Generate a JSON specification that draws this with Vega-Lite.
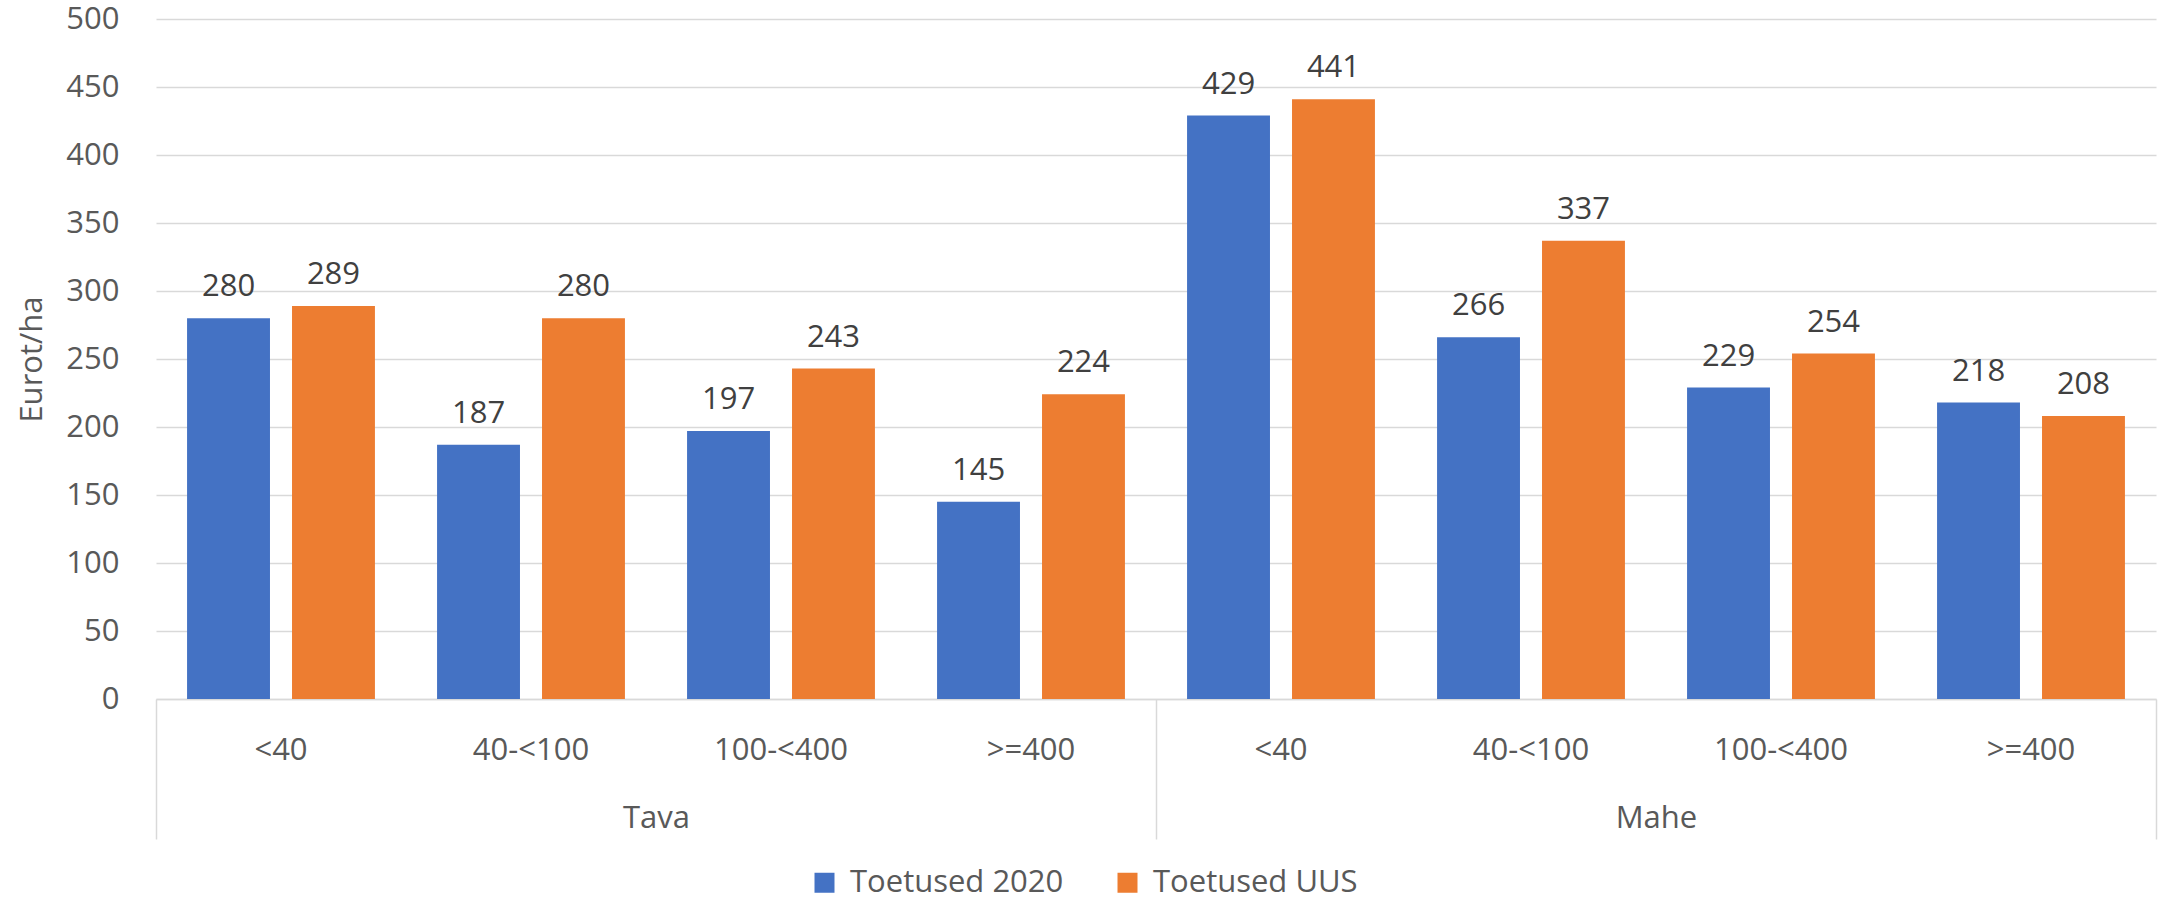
{
  "$schema": "https://vega.github.io/schema/vega-lite/v6.json",
  "autosize": {"type": "none"},
  "padding": {"left": 156, "top": 19, "right": 7, "bottom": 199},
  "width": 2000,
  "height": 680,
  "config": {
    "font": "Open Sans",
    "view": {"stroke": null},
    "axis": {"labelFont": "Open Sans", "titleFont": "Open Sans"}
  },
  "data": {
    "values": [
      {"group": "Tava", "size": "<40", "cat": "Tava|<40", "series": "Toetused 2020", "value": 280},
      {"group": "Tava", "size": "<40", "cat": "Tava|<40", "series": "Toetused UUS", "value": 289},
      {"group": "Tava", "size": "40-<100", "cat": "Tava|40-<100", "series": "Toetused 2020", "value": 187},
      {"group": "Tava", "size": "40-<100", "cat": "Tava|40-<100", "series": "Toetused UUS", "value": 280},
      {"group": "Tava", "size": "100-<400", "cat": "Tava|100-<400", "series": "Toetused 2020", "value": 197},
      {"group": "Tava", "size": "100-<400", "cat": "Tava|100-<400", "series": "Toetused UUS", "value": 243},
      {"group": "Tava", "size": ">=400", "cat": "Tava|>=400", "series": "Toetused 2020", "value": 145},
      {"group": "Tava", "size": ">=400", "cat": "Tava|>=400", "series": "Toetused UUS", "value": 224},
      {"group": "Mahe", "size": "<40", "cat": "Mahe|<40", "series": "Toetused 2020", "value": 429},
      {"group": "Mahe", "size": "<40", "cat": "Mahe|<40", "series": "Toetused UUS", "value": 441},
      {"group": "Mahe", "size": "40-<100", "cat": "Mahe|40-<100", "series": "Toetused 2020", "value": 266},
      {"group": "Mahe", "size": "40-<100", "cat": "Mahe|40-<100", "series": "Toetused UUS", "value": 337},
      {"group": "Mahe", "size": "100-<400", "cat": "Mahe|100-<400", "series": "Toetused 2020", "value": 229},
      {"group": "Mahe", "size": "100-<400", "cat": "Mahe|100-<400", "series": "Toetused UUS", "value": 254},
      {"group": "Mahe", "size": ">=400", "cat": "Mahe|>=400", "series": "Toetused 2020", "value": 218},
      {"group": "Mahe", "size": ">=400", "cat": "Mahe|>=400", "series": "Toetused UUS", "value": 208}
    ]
  },
  "layer": [
    {
      "encoding": {
        "x": {
          "field": "cat",
          "type": "nominal",
          "sort": ["Tava|<40", "Tava|40-<100", "Tava|100-<400", "Tava|>=400", "Mahe|<40", "Mahe|40-<100", "Mahe|100-<400", "Mahe|>=400"],
          "scale": {"paddingInner": 0, "paddingOuter": 0},
          "axis": {
            "title": null,
            "orient": "bottom",
            "labelExpr": "split(datum.value, '|')[1]",
            "labelAngle": 0,
            "labelFontSize": 31,
            "labelColor": "#595959",
            "labelBaseline": "middle",
            "labelPadding": 51,
            "ticks": false,
            "domain": true,
            "domainColor": "#d9d9d9",
            "domainWidth": 1.5,
            "grid": false
          }
        },
        "xOffset": {
          "field": "series",
          "type": "nominal",
          "sort": ["Toetused 2020", "Toetused UUS"],
          "scale": {"paddingInner": 0.21, "paddingOuter": 0.296}
        },
        "y": {
          "field": "value",
          "type": "quantitative",
          "scale": {"domain": [0, 500]},
          "axis": {
            "title": "Eurot/ha",
            "values": [0, 50, 100, 150, 200, 250, 300, 350, 400, 450, 500],
            "domain": false,
            "ticks": false,
            "grid": true,
            "gridColor": "#d9d9d9",
            "gridWidth": 1.5,
            "labelFontSize": 31,
            "labelColor": "#595959",
            "labelPadding": 37,
            "titleFontSize": 31,
            "titleFontWeight": "normal",
            "titleColor": "#595959",
            "titlePadding": 17
          }
        }
      },
      "layer": [
        {
          "mark": {"type": "bar"},
          "encoding": {
            "color": {
              "field": "series",
              "type": "nominal",
              "scale": {"domain": ["Toetused 2020", "Toetused UUS"], "range": ["#4472C4", "#ED7D31"]},
              "legend": {
                "title": null,
                "orient": "none",
                "direction": "horizontal",
                "legendX": 653,
                "legendY": 848,
                "symbolType": "square",
                "symbolSize": 400,
                "symbolStrokeWidth": 0,
                "symbolOpacity": 1,
                "labelFontSize": 31,
                "labelColor": "#595959",
                "labelOffset": 10,
                "labelLimit": 600,
                "columnPadding": 48
              }
            }
          }
        },
        {
          "mark": {"type": "text", "baseline": "alphabetic", "dy": -22, "fontSize": 31, "color": "#404040"},
          "encoding": {
            "text": {"field": "value", "type": "quantitative"}
          }
        }
      ]
    },
    {
      "mark": {"type": "point", "opacity": 0},
      "encoding": {
        "x": {
          "field": "group",
          "type": "nominal",
          "sort": ["Tava", "Mahe"],
          "scale": {"paddingInner": 0, "paddingOuter": 0},
          "axis": {
            "title": null,
            "orient": "bottom",
            "labelAngle": 0,
            "labelFontSize": 31,
            "labelColor": "#595959",
            "labelBaseline": "middle",
            "labelPadding": -21,
            "ticks": true,
            "tickBand": "extent",
            "tickSize": 140,
            "tickColor": "#d9d9d9",
            "tickWidth": 1.5,
            "domain": false,
            "grid": false
          }
        }
      }
    }
  ],
  "resolve": {"scale": {"x": "independent"}}
}
